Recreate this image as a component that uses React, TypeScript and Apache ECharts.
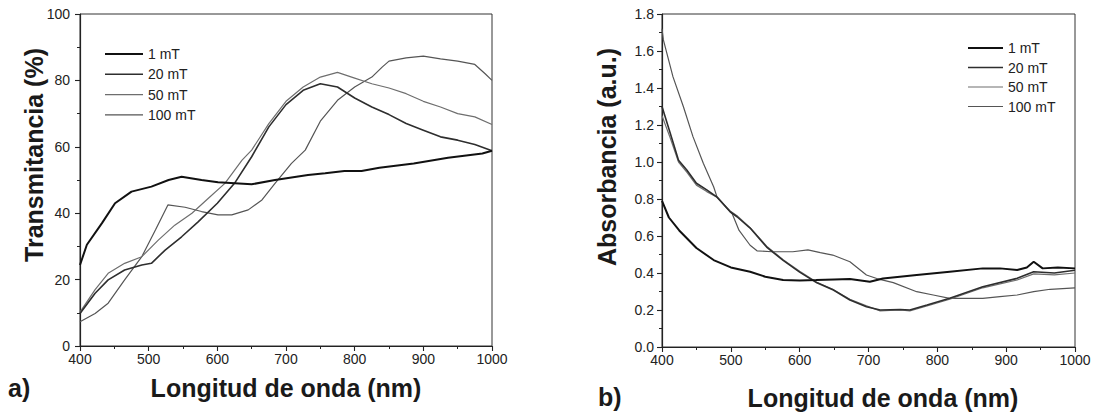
import React, { useEffect, useRef } from "react";
import * as echarts from "echarts";

// ---- Chart a) Transmitancia (%) ----
const T1_x = [400, 410, 432, 451, 475, 504, 529, 548, 577, 601, 650, 684, 732, 757, 785, 810, 836, 886, 936, 986, 1000];
const T1_y = [24.4, 30.5, 37, 43, 46.5, 48, 50, 51, 50, 49.3, 48.7, 50, 51.5, 52, 52.7, 52.7, 53.7, 55, 56.7, 58, 58.8];

const T20_x = [400, 422, 441, 465, 490, 504, 524, 548, 572, 600, 625, 650, 675, 700, 725, 750, 775, 800, 825, 850, 875, 900, 925, 950, 975, 1000];
const T20_y = [9.8, 15.9, 19.9, 22.9, 24.4, 24.9, 28.9, 32.9, 37.4, 43, 49, 57, 66, 72.7, 77, 79, 78, 74.7, 72, 69.7, 67, 65, 63, 62, 60.7, 58.8];

const T50_x = [400, 422, 441, 465, 490, 514, 538, 563, 587, 611, 636, 650, 675, 700, 725, 750, 775, 800, 825, 850, 875, 900, 925, 950, 975, 1000];
const T50_y = [10.2, 17, 21.9, 24.9, 26.9, 31.9, 36.4, 40, 44.5, 49, 56, 59, 67, 73.7, 78, 81, 82.4, 80.7, 79, 77.7, 76, 73.7, 72, 70, 69, 66.7];

const T100_x = [400, 422, 441, 465, 490, 510, 528, 553, 577, 601, 621, 645, 665, 684, 708, 728, 750, 775, 800, 825, 840, 850, 875, 900, 925, 950, 975, 990, 1000];
const T100_y = [7.3, 9.8, 12.9, 19.9, 26.9, 35, 42.5, 41.8, 40.5, 39.5, 39.5, 41, 44, 49, 55, 59, 67.7, 74, 78, 81, 84, 85.8, 86.8, 87.3, 86.5, 85.8, 84.8, 82, 80];

// ---- Chart b) Absorbancia (a.u.) ----
const A1_x = [400, 410, 425, 450, 475, 500, 528, 550, 576, 600, 624, 650, 673, 702, 721, 770, 818, 866, 891, 916, 930, 940, 953, 975, 1000];
const A1_y = [0.79, 0.7, 0.63, 0.535, 0.47, 0.43, 0.407, 0.38, 0.362, 0.36, 0.362, 0.365, 0.367, 0.353, 0.37, 0.389, 0.407, 0.425, 0.425, 0.416, 0.43, 0.461, 0.425, 0.43, 0.425];

const A20_x = [400, 412, 424, 436, 450, 465, 480, 499, 509, 528, 552, 576, 600, 625, 649, 673, 697, 717, 746, 760, 785, 818, 866, 916, 940, 970, 1000];
const A20_y = [1.3, 1.155, 1.01, 0.957, 0.885, 0.849, 0.81, 0.731, 0.704, 0.643, 0.54, 0.468, 0.405, 0.347, 0.308, 0.254, 0.218, 0.2, 0.203, 0.2, 0.227, 0.263, 0.326, 0.371, 0.407, 0.4, 0.415];

const A50_x = [400, 412, 424, 436, 450, 465, 480, 499, 509, 528, 552, 576, 600, 625, 649, 673, 697, 717, 746, 760, 785, 818, 866, 916, 940, 970, 1000];
const A50_y = [1.25, 1.13, 1.0, 0.945, 0.875, 0.84, 0.81, 0.735, 0.71, 0.645, 0.545, 0.472, 0.41, 0.35, 0.31, 0.258, 0.222, 0.195, 0.2, 0.195, 0.222, 0.258, 0.32, 0.362, 0.395, 0.39, 0.4];

const A100_x = [400, 402, 416, 431, 445, 460, 475, 480, 502, 512, 528, 538, 560, 590, 612, 630, 648, 673, 697, 712, 736, 770, 794, 818, 866, 891, 916, 940, 964, 1000];
const A100_y = [1.72, 1.66, 1.46, 1.3, 1.137, 0.993, 0.866, 0.81, 0.72, 0.63, 0.55, 0.52, 0.515, 0.515, 0.525, 0.51, 0.497, 0.461, 0.389, 0.37, 0.348, 0.299, 0.281, 0.263, 0.263, 0.272, 0.281, 0.299, 0.312, 0.32];

const seriesNames = ["1 mT", "20 mT", "50 mT", "100 mT"];
const xTicksMin = 400;
const xTicksMax = 1000;

const FONT = "'Liberation Sans', Arial, Helvetica, sans-serif";
const lineColors = ["#111111", "#2e2e2e", "#6e6e6e", "#555555"];
const lineWidths = [2, 1.6, 1.2, 1.2];

function zip(xs: number[], ys: number[]) {
  return xs.map((x, i) => [x, ys[i]]);
}

export default function App() {
  const ref = useRef<HTMLDivElement>(null);

  useEffect(() => {
    if (!ref.current) return;
    const chart = echarts.init(ref.current, null, { renderer: "svg" });

    const leftData = [zip(T1_x, T1_y), zip(T20_x, T20_y), zip(T50_x, T50_y), zip(T100_x, T100_y)];
    const rightData = [zip(A1_x, A1_y), zip(A20_x, A20_y), zip(A50_x, A50_y), zip(A100_x, A100_y)];

    const mkSeries = (data: number[][][], idx: number) =>
      data.map((d, i) => ({
        name: seriesNames[i],
        type: "line",
        xAxisIndex: idx,
        yAxisIndex: idx,
        data: d,
        symbol: "none",
        showSymbol: false,
        smooth: false,
        z: 10 - i,
        lineStyle: { color: lineColors[i], width: lineWidths[i] },
        itemStyle: { color: lineColors[i] },
      }));

    const axisCommon = {
      axisLine: { show: true, onZero: false, lineStyle: { color: "#222", width: 1.2 } },
      axisTick: { show: true, inside: false, length: 5, lineStyle: { color: "#222", width: 1.1 } },
      minorTick: { show: true, splitNumber: 2, length: 3, lineStyle: { color: "#222", width: 1 } },
      splitLine: { show: false },
      minorSplitLine: { show: false },
    };

    const xAxis = (gi: number) => ({
      type: "value",
      gridIndex: gi,
      min: xTicksMin,
      max: xTicksMax,
      interval: 100,
      ...axisCommon,
      axisLabel: { margin: 6, fontSize: 14, color: "#222", fontFamily: FONT, formatter: (v: number) => String(v) },
    });

    const legend = (left: number, top: number, gap: number, w: number) => ({
      data: seriesNames.map((n, i) => ({
        name: n,
        icon: `path://M0,0H${w}V${lineWidths[i]}H0Z`,
      })),
      orient: "vertical",
      left,
      top,
      itemWidth: w,
      itemHeight: 14,
      itemGap: gap,
      symbolKeepAspect: true,
      selectedMode: false,
      itemStyle: { borderWidth: 0 },
      textStyle: { fontSize: 14, color: "#222", fontFamily: FONT },
    });

    const titleStyle = { fontSize: 25, fontWeight: "bold", fill: "#1a1a1a", fontFamily: FONT };

    chart.setOption({
      animation: false,
      backgroundColor: "#ffffff",
      textStyle: { fontFamily: FONT },
      grid: [
        { left: 80, top: 14, width: 412, height: 332, show: true, borderColor: "#333", borderWidth: 1, backgroundColor: "transparent" },
        { left: 662, top: 14, width: 413, height: 333, show: true, borderColor: "#333", borderWidth: 1, backgroundColor: "transparent" },
      ],
      legend: [legend(100, 42, 6.3, 38), legend(963, 36, 5.5, 35)],
      xAxis: [xAxis(0), xAxis(1)],
      yAxis: [
        {
          type: "value",
          gridIndex: 0,
          min: 0,
          max: 100,
          interval: 20,
          ...axisCommon,
          axisLabel: { margin: 10, fontSize: 14, color: "#222", fontFamily: FONT },
        },
        {
          type: "value",
          gridIndex: 1,
          min: 0,
          max: 1.8,
          interval: 0.2,
          ...axisCommon,
          axisLabel: {
            margin: 8,
            fontSize: 14,
            color: "#222",
            fontFamily: FONT,
            formatter: (v: number) => v.toFixed(1),
          },
        },
      ],
      graphic: [
        { type: "text", x: 286, y: 388, style: { text: "Longitud de onda (nm)", align: "center", verticalAlign: "middle", ...titleStyle } },
        { type: "text", x: 883, y: 398, style: { text: "Longitud de onda (nm)", align: "center", verticalAlign: "middle", ...titleStyle } },
        { type: "text", x: 34, y: 155, rotation: Math.PI / 2, style: { text: "Transmitancia (%)", align: "center", verticalAlign: "middle", ...titleStyle } },
        { type: "text", x: 607, y: 157, rotation: Math.PI / 2, style: { text: "Absorbancia (a.u.)", align: "center", verticalAlign: "middle", ...titleStyle } },
        { type: "text", x: 8, y: 388, style: { text: "a)", align: "left", verticalAlign: "middle", ...titleStyle } },
        { type: "text", x: 598, y: 397, style: { text: "b)", align: "left", verticalAlign: "middle", ...titleStyle } },
      ],
      series: [...mkSeries(leftData, 0), ...mkSeries(rightData, 1)],
    });

    return () => chart.dispose();
  }, []);

  return (
    <div
      ref={ref}
      style={{ position: "fixed", left: 0, top: 0, width: 1098, height: 417, background: "#fff" }}
    />
  );
}
